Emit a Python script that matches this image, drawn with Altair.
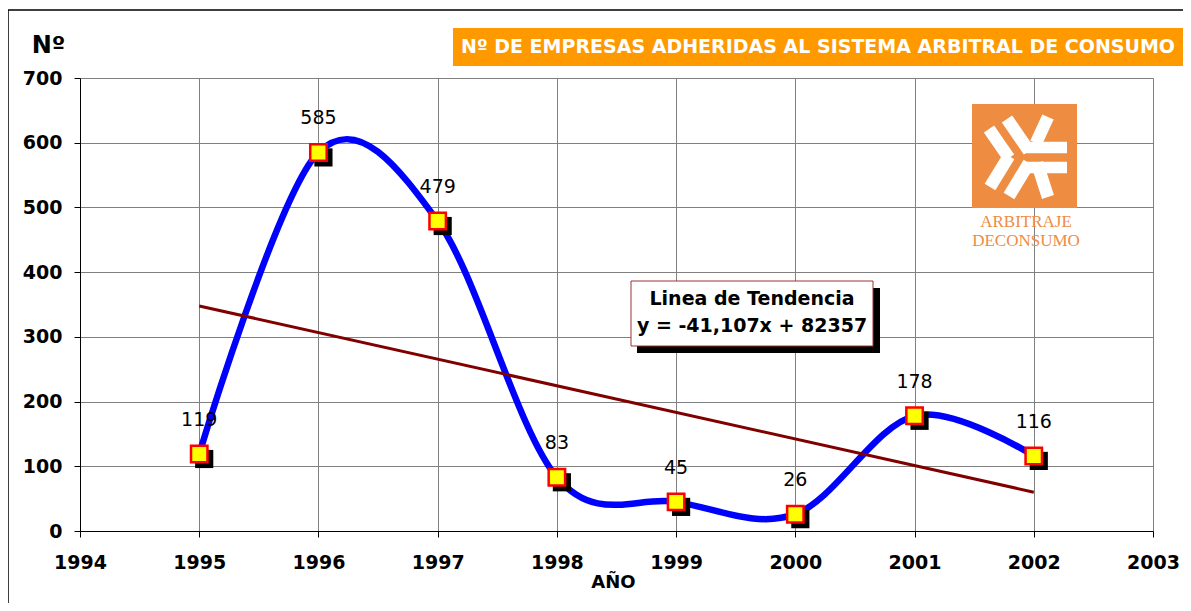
import altair as alt
import pandas as pd

# ---- data ----
years = [1995, 1996, 1997, 1998, 1999, 2000, 2001, 2002]
empresas = [119, 585, 479, 83, 45, 26, 178, 116]
x_ticks = [1994, 1995, 1996, 1997, 1998, 1999, 2000, 2001, 2002, 2003]
y_ticks = [0, 100, 200, 300, 400, 500, 600, 700]

title_text = "Nº DE EMPRESAS ADHERIDAS AL SISTEMA ARBITRAL DE CONSUMO"
trend_lines = ["Linea de Tendencia", "y = -41,107x + 82357"]
logo_lines = ["ARBITRAJE", "DECONSUMO"]

df = pd.DataFrame({"year": years, "value": empresas})
one = pd.DataFrame({"k": [0]})

W, H = 1073, 453
OX, OY = 80, 78  # page position of the plot origin


def px(v):
    return alt.value(v - OX)


def py(v):
    return alt.value(v - OY)


FONT = "DejaVu Sans"
ORANGE_LOGO = "#EE8C42"

x_enc = alt.X(
    "year:Q",
    scale=alt.Scale(domain=[1994, 2003], nice=False, zero=False),
    axis=alt.Axis(
        values=x_ticks, format="d", title="AÑO",
        labelFont=FONT, labelFontWeight="bold", labelFontSize=19, labelColor="black",
        labelBaseline="middle", labelPadding=25, labelFlush=False, labelOverlap=False,
        tickSize=6, tickColor="black", domainColor="black",
        gridColor="#808080", gridWidth=1,
        titleFont=FONT, titleFontSize=18, titleFontWeight="bold", titleColor="black",
        titleX=533, titleY=51, titleBaseline="middle", titleAlign="center",
    ),
)
y_enc = alt.Y(
    "value:Q",
    scale=alt.Scale(domain=[0, 700], nice=False),
    axis=alt.Axis(
        values=y_ticks, title="Nº",
        labelFont=FONT, labelFontWeight="bold", labelFontSize=19, labelColor="black",
        labelBaseline="middle", labelPadding=12, labelFlush=False, labelOverlap=False,
        tickSize=6, tickColor="black", domainColor="black",
        gridColor="#808080", gridWidth=1,
        titleFont=FONT, titleFontSize=24, titleFontWeight="bold", titleColor="black",
        titleAngle=0, titleX=-32, titleY=-33, titleAlign="center", titleBaseline="middle",
    ),
)

base = alt.Chart(df).encode(x=x_enc, y=y_enc)

# ---- decorations ----
border = alt.Chart(one).mark_rect(filled=False, stroke="black", strokeWidth=1.5).encode(
    x=px(8), x2=px(1400), y=py(10), y2=py(800)
)
title_box = alt.Chart(one).mark_rect(color="#FF9900").encode(
    x=px(453), x2=px(1187), y=py(28), y2=py(66)
)
title_lbl = alt.Chart(one).mark_text(
    text=title_text, font=FONT, fontWeight="bold", fontSize=19, color="white",
    align="center", baseline="middle",
).encode(x=px(818), y=py(47))

logo_box = alt.Chart(one).mark_rect(color=ORANGE_LOGO).encode(
    x=px(972), x2=px(1077), y=py(104), y2=py(208)
)


def seg(x1, y1, x2, y2, w=12.5):
    return alt.Chart(one).mark_rule(color="white", strokeWidth=w, strokeCap="butt").encode(
        x=px(x1), y=py(y1), x2=px(x2), y2=py(y2)
    )


logo_segs = [
    seg(989, 129, 1009, 158),
    seg(1009, 156, 990, 187),
    seg(1007, 119, 1029, 151),
    seg(1023, 147.5, 1067, 147.5, 11.5),
    seg(1048, 117, 1036, 143),
    seg(1025, 167.5, 1067, 167.5, 11.5),
    seg(1029, 163, 1009, 196),
    seg(1037, 163, 1048, 197),
]
logo_txt = [
    alt.Chart(one).mark_text(
        text=t, font="Liberation Serif", fontSize=17, color=ORANGE_LOGO,
        align="center", baseline="middle",
    ).encode(x=px(1026), y=py(yy))
    for t, yy in zip(logo_lines, [222, 241])
]

trend_shadow = alt.Chart(one).mark_rect(color="black").encode(
    x=px(637), x2=px(880), y=py(288), y2=py(353)
)
trend_box = alt.Chart(one).mark_rect(fill="white", stroke="#A03030", strokeWidth=1).encode(
    x=px(631), x2=px(873), y=py(281), y2=py(346)
)
trend_txt = [
    alt.Chart(one).mark_text(
        text=t, font=FONT, fontWeight="bold", fontSize=19, color="black",
        align="center", baseline="middle",
    ).encode(x=px(752), y=py(yy))
    for t, yy in zip(trend_lines, [299, 326])
]

# ---- data marks ----
line = base.mark_line(interpolate="cardinal", color="#0000FF", strokeWidth=6.5)
trend = base.transform_regression("year", "value", extent=[1995, 2002]).mark_line(
    color="#800000", strokeWidth=3
)
shadow = base.mark_square(size=330, color="black", opacity=1, xOffset=5, yOffset=5)
squares = base.mark_square(
    size=270, fill="#FFFF00", stroke="#FF0000", strokeWidth=2.5, opacity=1, filled=True
)
labels = base.mark_text(dy=-34, font=FONT, fontSize=19, color="black").encode(
    text="value:Q"
)

chart = alt.layer(
    border, title_box, title_lbl, logo_box, *logo_segs, *logo_txt,
    trend_shadow, trend_box, *trend_txt,
    line, trend, shadow, squares, labels,
).properties(
    width=W, height=H,
    autosize=alt.AutoSizeParams(type="none"),
    padding={"left": 72, "top": 70, "right": 30, "bottom": 72},
    background="white",
).configure_view(stroke=None)

chart.save("out.html", embed_options={"renderer": "svg", "actions": False})
